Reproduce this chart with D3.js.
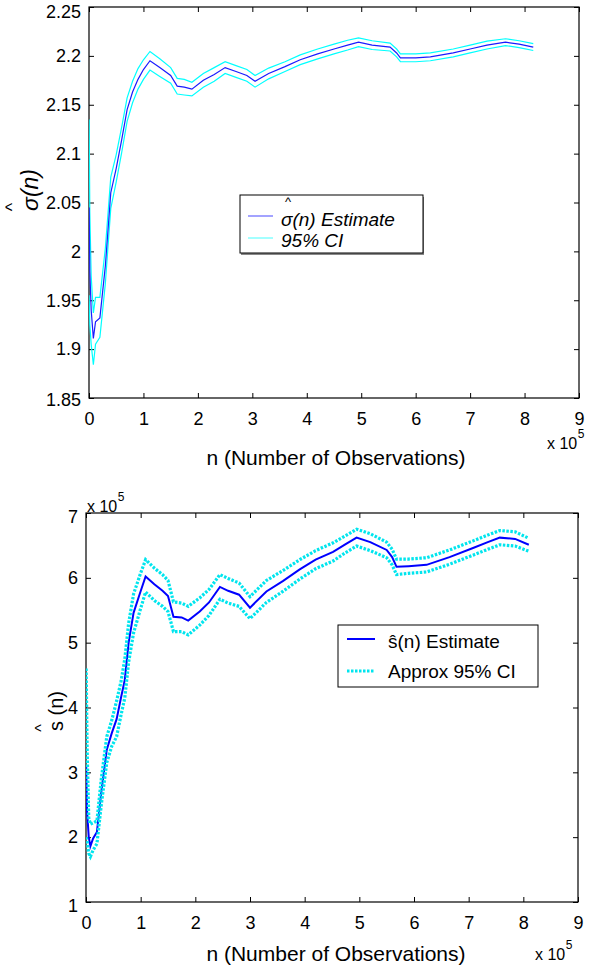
<!DOCTYPE html>
<html><head><meta charset="utf-8">
<script src="https://cdn.jsdelivr.net/npm/d3@7"></script>
<style>
body{margin:0;background:#fff;}
svg{display:block;font-family:"Liberation Sans",Arial,sans-serif;}
</style></head>
<body><svg id="c" width="589" height="967"></svg>
<script>
// ---------- Data (n in units of 1e5) ----------
const topN   = [0.003,0.015,0.04,0.08,0.12,0.2,0.3,0.4,0.5,0.6,0.7,0.8,0.9,1.0,1.12,1.3,1.5,1.62,1.75,1.89,2.1,2.3,2.5,2.7,2.9,3.05,3.3,3.6,3.88,4.2,4.5,4.75,4.95,5.2,5.53,5.65,5.72,6.0,6.27,6.69,7.0,7.31,7.65,7.9,8.16];
const topEst = [2.045,1.98,1.94,1.911,1.928,1.932,1.985,2.06,2.085,2.114,2.145,2.163,2.176,2.186,2.195,2.188,2.180,2.169,2.168,2.166,2.175,2.181,2.188,2.184,2.180,2.174,2.182,2.189,2.196,2.202,2.207,2.211,2.214,2.211,2.209,2.203,2.198,2.198,2.199,2.203,2.207,2.211,2.214,2.212,2.209];
const topUp  = [2.135,2.04,1.975,1.937,1.953,1.953,2.003,2.076,2.099,2.127,2.157,2.174,2.187,2.196,2.2045,2.197,2.188,2.177,2.176,2.173,2.182,2.188,2.194,2.190,2.186,2.180,2.1875,2.194,2.201,2.207,2.212,2.216,2.2185,2.2155,2.213,2.207,2.202,2.202,2.203,2.207,2.211,2.215,2.2175,2.2155,2.2125];
const topLo  = [1.955,1.925,1.905,1.884,1.905,1.912,1.967,2.044,2.071,2.101,2.133,2.152,2.166,2.176,2.1855,2.179,2.172,2.161,2.160,2.159,2.168,2.174,2.182,2.178,2.174,2.168,2.1765,2.184,2.191,2.197,2.202,2.206,2.2095,2.2065,2.205,2.199,2.194,2.194,2.195,2.199,2.203,2.207,2.2105,2.2085,2.2055];

const botN   = [0.003,0.02,0.05,0.08,0.13,0.2,0.28,0.38,0.47,0.56,0.64,0.71,0.78,0.87,0.99,1.09,1.25,1.4,1.5,1.6,1.75,1.87,2.08,2.25,2.45,2.6,2.8,3.0,3.3,3.6,3.91,4.2,4.52,4.75,4.95,5.2,5.5,5.6,5.68,5.9,6.23,6.65,7.08,7.35,7.57,7.85,8.1];
const botEst = [3.1,2.4,2.0,1.86,1.98,2.08,2.7,3.35,3.6,3.82,4.15,4.43,5.0,5.46,5.77,6.02,5.9,5.8,5.72,5.40,5.39,5.34,5.48,5.62,5.86,5.8,5.74,5.54,5.79,5.95,6.13,6.28,6.40,6.52,6.62,6.55,6.43,6.32,6.17,6.18,6.20,6.32,6.46,6.55,6.62,6.60,6.51];
const botUp  = [4.6,3.4,2.3,2.2,2.22,2.25,2.9,3.55,3.8,4.1,4.4,4.75,5.3,5.75,6.05,6.28,6.15,6.05,5.96,5.63,5.61,5.56,5.69,5.82,6.05,5.99,5.92,5.71,5.96,6.11,6.28,6.42,6.54,6.65,6.75,6.68,6.55,6.44,6.29,6.29,6.31,6.43,6.57,6.66,6.73,6.71,6.61];
const botLo  = [2.0,1.95,1.75,1.7,1.8,1.9,2.5,3.15,3.4,3.55,3.88,4.15,4.7,5.15,5.5,5.78,5.65,5.56,5.48,5.17,5.17,5.12,5.27,5.42,5.67,5.61,5.56,5.37,5.62,5.79,5.98,6.14,6.26,6.39,6.49,6.42,6.31,6.20,6.05,6.07,6.09,6.21,6.35,6.44,6.51,6.49,6.41];

const xTicks = [0,1,2,3,4,5,6,7,8,9];
const topYTicks = [1.85,1.9,1.95,2,2.05,2.1,2.15,2.2,2.25];
const botYTicks = [1,2,3,4,5,6,7];
const topLegend = ["(n) Estimate","95% CI"];
const botLegend = ["ŝ(n) Estimate","Approx 95% CI"];
const xLabel = "n (Number of Observations)";

const svg = d3.select("#c");
const tickFont = 18;

function panel(cfg){
  const x = d3.scaleLinear().domain([0,9]).range([cfg.x0,cfg.x1]);
  const y = d3.scaleLinear().domain(cfg.ydom).range([cfg.y1,cfg.y0]);
  const g = svg.append("g");
  const ax = d3.axisBottom(x).tickValues(xTicks).tickFormat(d3.format("d")).tickSizeInner(-5).tickSizeOuter(0).tickPadding(14);
  const gx = g.append("g").attr("transform",`translate(0,${cfg.y1})`).call(ax);
  gx.select(".domain").remove();
  gx.selectAll("text").attr("font-size",tickFont).attr("font-family","Liberation Sans, Arial, sans-serif").attr("fill","#000");
  const axT = d3.axisTop(x).tickValues(xTicks).tickFormat("").tickSizeInner(-5).tickSizeOuter(0);
  const gxt = g.append("g").attr("transform",`translate(0,${cfg.y0})`).call(axT);
  gxt.select(".domain").remove();
  const ay = d3.axisLeft(y).tickValues(cfg.yTicks).tickFormat(cfg.yFmt).tickSizeInner(-5).tickSizeOuter(0).tickPadding(8);
  const gy = g.append("g").attr("transform",`translate(${cfg.x0},0)`).call(ay);
  gy.select(".domain").remove();
  gy.selectAll("text").attr("font-size",tickFont).attr("font-family","Liberation Sans, Arial, sans-serif").attr("fill","#000");
  const t = cfg.yTicks;
  gy.selectAll(".tick").filter(d=>d===t[t.length-1]).select("text").attr("transform",`translate(0,${cfg.topShift})`);
  gy.selectAll(".tick").filter(d=>d===t[0]).select("text").attr("transform",`translate(0,${cfg.botShift})`);
  const ayR = d3.axisRight(y).tickValues(cfg.yTicks).tickFormat("").tickSizeInner(-5).tickSizeOuter(0);
  const gyr = g.append("g").attr("transform",`translate(${cfg.x1},0)`).call(ayR);
  gyr.select(".domain").remove();
  g.selectAll(".tick line").attr("stroke","#000");
  g.append("rect").attr("x",cfg.x0).attr("y",cfg.y0).attr("width",cfg.x1-cfg.x0).attr("height",cfg.y1-cfg.y0)
    .attr("fill","none").attr("stroke","#000").attr("stroke-width",1.2);
  const cid = "clip"+cfg.id;
  svg.append("clipPath").attr("id",cid).append("rect").attr("x",cfg.x0).attr("y",cfg.y0).attr("width",cfg.x1-cfg.x0).attr("height",cfg.y1-cfg.y0);
  const lg = g.append("g").attr("clip-path",`url(#${cid})`);
  const mk = (arr)=> d3.line().x((d,i)=>x(cfg.n[i])).y(d=>y(d))(arr);
  return {x,y,g,lg,mk};
}

function expLabel(x, y, fs){
  const t = svg.append("text").attr("x",x).attr("y",y).attr("font-size",fs).text("x 10");
  const w = t.node().getComputedTextLength();
  svg.append("text").attr("x",x+w+0.5).attr("y",y-11).attr("font-size",12).text("5");
}

// ---------- Top panel ----------
const P1 = panel({id:1,x0:89,x1:579,y0:7,y1:398,ydom:[1.85,2.25],yTicks:topYTicks,yFmt:d=>String(+d.toFixed(2)),n:topN,topShift:5,botShift:2});
P1.lg.append("path").attr("d",P1.mk(topUp)).attr("fill","none").attr("stroke","#00ffff").attr("stroke-width",1.2);
P1.lg.append("path").attr("d",P1.mk(topLo)).attr("fill","none").attr("stroke","#00ffff").attr("stroke-width",1.2);
P1.lg.append("path").attr("d",P1.mk(topEst)).attr("fill","none").attr("stroke","#1a1aff").attr("stroke-width",1.2);

svg.append("text").attr("x",336).attr("y",465).attr("text-anchor","middle").attr("font-size",21).text(xLabel);
expLabel(547, 449, 16);

{
  const yl = svg.append("g").attr("transform","translate(38,190) rotate(-90)");
  yl.append("text").attr("text-anchor","middle").attr("font-size",23).attr("font-style","italic").text("σ(n)");
  yl.append("text").attr("x",-17).attr("y",-20).attr("text-anchor","middle").attr("font-size",18).text("^");
}

{
  const lg = svg.append("g");
  lg.append("rect").attr("x",241).attr("y",197).attr("width",183).attr("height",58).attr("fill","#888");
  lg.append("rect").attr("x",240).attr("y",195).attr("width",183).attr("height",58).attr("fill","#fff").attr("stroke","#000").attr("stroke-width",1);
  lg.append("line").attr("x1",248).attr("x2",273).attr("y1",216).attr("y2",216).attr("stroke","#6666ff").attr("stroke-width",1.2);
  lg.append("line").attr("x1",248).attr("x2",273).attr("y1",238).attr("y2",238).attr("stroke","#66ffff").attr("stroke-width",1.2);
  lg.append("text").attr("x",281).attr("y",226).attr("font-size",19).attr("font-style","italic").text("σ"+topLegend[0]);
  lg.append("text").attr("x",288).attr("y",206).attr("text-anchor","middle").attr("font-size",13).text("^");
  lg.append("text").attr("x",281).attr("y",247).attr("font-size",19).attr("font-style","italic").text(topLegend[1]);
}

// ---------- Bottom panel ----------
const P2 = panel({id:2,x0:86,x1:578,y0:513,y1:902,ydom:[1,7],yTicks:botYTicks,yFmt:d3.format("d"),n:botN,topShift:4,botShift:4});
P2.lg.append("path").attr("d",P2.mk(botEst)).attr("fill","none").attr("stroke","#0000ff").attr("stroke-width",2);
P2.lg.append("path").attr("d",P2.mk(botUp)).attr("fill","none").attr("stroke","#00e5ee").attr("stroke-width",3.2).attr("stroke-dasharray","2.5,1.5");
P2.lg.append("path").attr("d",P2.mk(botLo)).attr("fill","none").attr("stroke","#00e5ee").attr("stroke-width",3.2).attr("stroke-dasharray","2.5,1.5");

svg.append("text").attr("x",336).attr("y",961).attr("text-anchor","middle").attr("font-size",21).text(xLabel);
expLabel(535, 960, 16);
expLabel(87, 512, 16);

{
  const yl = svg.append("g").attr("transform","translate(63,711) rotate(-90)");
  yl.append("text").attr("text-anchor","middle").attr("font-size",20).text("s (n)");
  yl.append("text").attr("x",-17).attr("y",-16).attr("text-anchor","middle").attr("font-size",16).text("^");
}

{
  const lg = svg.append("g");
  lg.append("rect").attr("x",338).attr("y",625).attr("width",200).attr("height",62).attr("fill","#fff").attr("stroke","#000").attr("stroke-width",1);
  lg.append("line").attr("x1",347).attr("x2",375).attr("y1",639).attr("y2",639).attr("stroke","#0000ff").attr("stroke-width",2);
  lg.append("line").attr("x1",347).attr("x2",375).attr("y1",671).attr("y2",671).attr("stroke","#00e5ee").attr("stroke-width",3.2).attr("stroke-dasharray","2.5,1.5");
  lg.append("text").attr("x",388).attr("y",648).attr("font-size",19).text(botLegend[0]);
  lg.append("text").attr("x",388).attr("y",678).attr("font-size",19).text(botLegend[1]);
}
</script></body></html>
